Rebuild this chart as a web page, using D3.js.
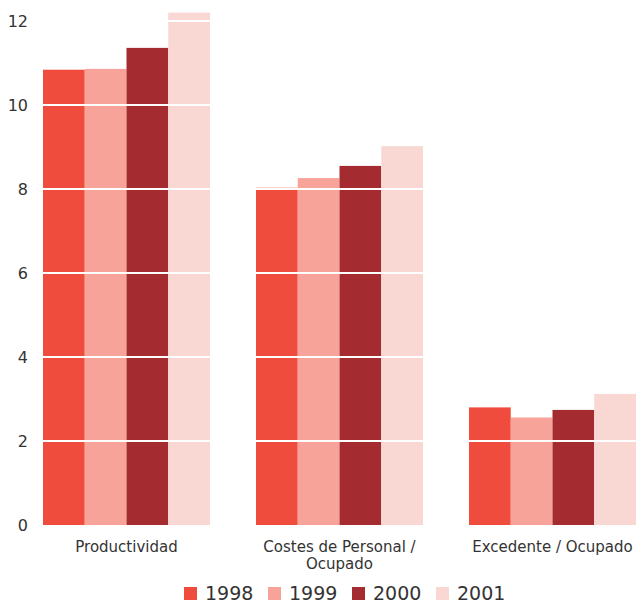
<!DOCTYPE html>
<html>
<head>
<meta charset="utf-8">
<script src="https://cdn.jsdelivr.net/npm/d3@7"></script>
<style>
  body { margin: 0; background: #fff; }
  text { font-family: "DejaVu Sans", sans-serif; fill: #333; }
</style>
</head>
<body>
<svg width="641" height="603"></svg>
<script>
var categories = [["Productividad"], ["Costes de Personal /", "Ocupado"], ["Excedente / Ocupado"]]
var years = ["1998", "1999", "2000", "2001"]
var values = {
  "1998": [10.84, 8.03, 2.8],
  "1999": [10.86, 8.26, 2.56],
  "2000": [11.36, 8.55, 2.74],
  "2001": [12.2, 9.02, 3.12]
}
var yTicks = [0, 2, 4, 6, 8, 10, 12]
var colors = ["#f04c3d", "#f8a399", "#a42b2f", "#f9d8d4"]

var svg = d3.select("svg")

var x0 = d3.scaleBand()
    .domain(d3.range(categories.length))
    .range([43, 636])
    .paddingInner(0.216)
    .paddingOuter(0)
var x1 = d3.scaleBand()
    .domain(years)
    .range([0, x0.bandwidth()])
var y = d3.scaleLinear()
    .domain([0, 12])
    .range([525, 21])
var color = d3.scaleOrdinal().domain(years).range(colors)

// bars
var groups = svg.append("g")
    .selectAll("g")
    .data(categories)
    .enter().append("g")
    .attr("transform", (d, i) => "translate(" + x0(i) + ",0)")

groups.selectAll("rect")
    .data((d, i) => years.map(yr => ({year: yr, v: values[yr][i]})))
    .enter().append("rect")
    .attr("x", d => x1(d.year))
    .attr("width", x1.bandwidth())
    .attr("y", d => y(d.v))
    .attr("height", d => y(0) - y(d.v))
    .attr("fill", d => color(d.year))

// white grid lines on top
svg.append("g")
    .selectAll("line")
    .data(yTicks.filter(t => t > 0))
    .enter().append("line")
    .attr("x1", 43)
    .attr("x2", 636)
    .attr("y1", d => y(d))
    .attr("y2", d => y(d))
    .style("stroke", "#fff")
    .style("stroke-width", 2)

// y labels
svg.append("g")
    .selectAll("text")
    .data(yTicks)
    .enter().append("text")
    .attr("x", 28)
    .attr("y", d => y(d))
    .attr("dy", "0.36em")
    .style("text-anchor", "end")
    .style("font-size", "16px")
    .text(d => d)

// category labels
var catLabels = svg.append("g")
    .selectAll("text")
    .data(categories)
    .enter().append("text")
    .attr("x", (d, i) => x0(i) + x0.bandwidth() / 2)
    .attr("y", 552)
    .style("text-anchor", "middle")
    .style("font-size", "15px")
catLabels.selectAll("tspan")
    .data(d => d)
    .enter().append("tspan")
    .attr("x", function() { return this.parentNode.getAttribute("x") })
    .attr("dy", (d, i) => i == 0 ? 0 : 16.5)
    .text(d => d)

// legend
var legend = svg.selectAll(".legend")
    .data(years)
    .enter().append("g")
    .attr("class", "legend")
    .attr("transform", (d, i) => "translate(" + (184 + i * 84) + ",0)")
legend.append("rect")
    .attr("x", 0)
    .attr("y", 587)
    .attr("width", 13)
    .attr("height", 13)
    .style("fill", color)
legend.append("text")
    .attr("x", 21)
    .attr("y", 600)
    .style("font-size", "19px")
    .text(d => d)
</script>
</body>
</html>
